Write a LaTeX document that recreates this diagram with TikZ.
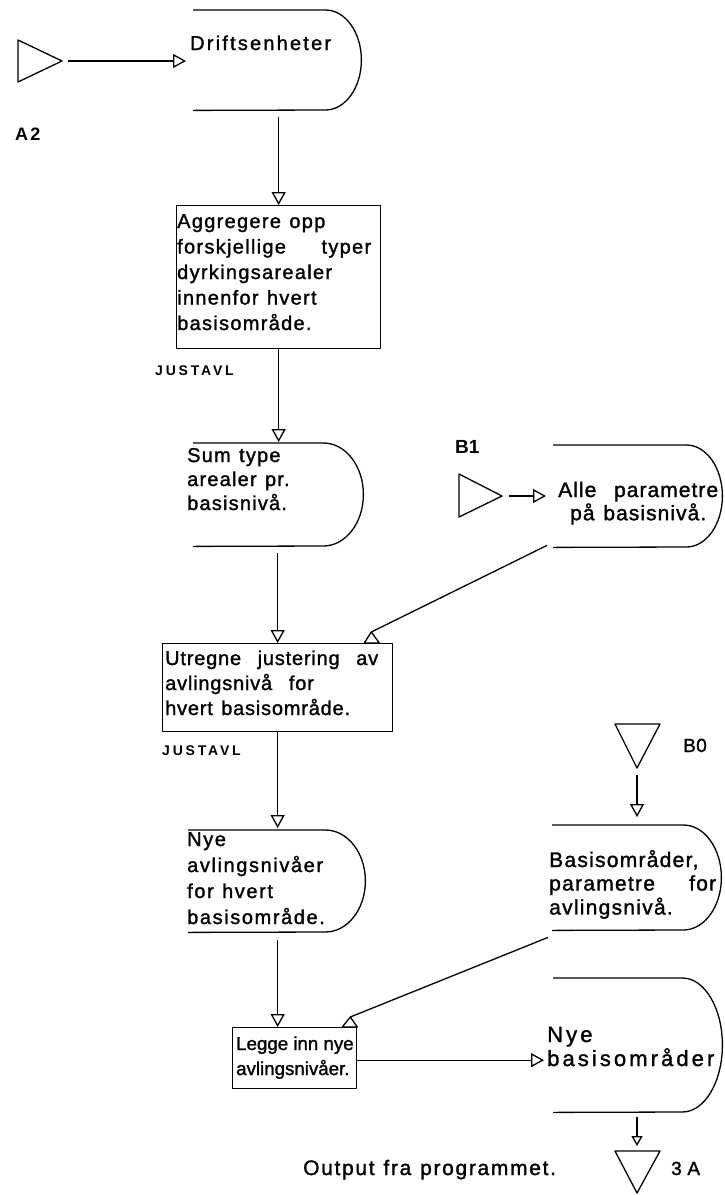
\documentclass[tikz,border=0pt]{standalone}
\usepackage{fontspec}
\setmainfont{Liberation Sans}
\usetikzlibrary{arrows.meta}

% text setting: size, leading, letter spacing
\newcommand\tset[3]{\fontsize{#1}{#2}\selectfont\addfontfeature{LetterSpace=#3,FakeBold=1.4}\spaceskip=0.42em plus 0.1em\relax}
\newcommand\tplain[3]{\fontsize{#1}{#2}\selectfont\addfontfeature{LetterSpace=#3,FakeBold=1.4}\relax}
\newcommand\tbold[3]{\fontsize{#1}{#2}\selectfont\bfseries\addfontfeature{LetterSpace=#3}\relax}
% open-left "delay" outline around a named node: name, bulge, half height
\newcommand\dout[3]{\draw[ln] (#1.north west) -- ([xshift=-#2]#1.north east)
  arc[start angle=90,end angle=-90,x radius=#2,y radius=#3] -- (#1.south west);}

\tikzset{
  ln/.style={line width=1.3pt, line join=round},
  arr/.style={ln, -{Triangle[open,length=13pt,width=14pt]}},
  sarr/.style={ln, -{Triangle[open,length=10pt,width=11pt]}},
  box/.style={ln, draw, rectangle, inner sep=0pt, anchor=north west},
  dnode/.style={rectangle, inner sep=0pt, anchor=north west},
  txt/.style={inner sep=0pt, anchor=base west},
}

\begin{document}
\begin{tikzpicture}[x=1pt, y=-1pt]
\useasboundingbox (0,0) rectangle (724,1195);

% ---- shapes ----
\node[dnode, minimum width=168pt, minimum height=100pt] (drift) at (193,10) {};
\dout{drift}{36pt}{50pt}
\node[box, minimum width=204pt, minimum height=143pt] (aggr) at (176,205) {};
\node[dnode, minimum width=170pt, minimum height=103pt] (sumtype) at (193,443) {};
\dout{sumtype}{40pt}{51.5pt}
\node[dnode, minimum width=169pt, minimum height=102pt] (alle) at (553,445) {};
\dout{alle}{36pt}{51pt}
\node[box, minimum width=230pt, minimum height=88pt] (utregne) at (162,643) {};
\node[dnode, minimum width=177pt, minimum height=102pt] (nyeavl) at (188,830) {};
\dout{nyeavl}{40pt}{51pt}
\node[dnode, minimum width=169pt, minimum height=105pt] (basis) at (552,825) {};
\dout{basis}{38pt}{52.5pt}
\node[box, minimum width=124pt, minimum height=61pt] (legge) at (232,1027) {};
\node[dnode, minimum width=169pt, minimum height=134pt] (nyebas) at (553,978) {};
\dout{nyebas}{40pt}{67pt}

% ---- connector triangles ----
\draw[ln] (18,40) -- (62,61) -- (18,82) -- cycle;
\coordinate (a2) at (62,61);
\draw[ln] (459,474) -- (502,496) -- (459,517) -- cycle;
\coordinate (b1) at (502,496);
\draw[ln] (615,724) -- (660,724) -- (637,768) -- cycle;
\coordinate (b0) at (637,768);
\draw[ln] (615,1151) -- (660,1151) -- (637,1193) -- cycle;
\coordinate (o3a) at (637,1151);

% ---- texts ----
\node[txt] (drifttxt) at (190,50) {\tset{20}{24}{11}Driftsenheter};
\node[txt] (aggrtxt) at (177,228) {\tset{20}{25.5}{6.5}\begin{tabular}[t]{@{}l@{}}
  Aggregere opp\\ \makebox[194pt][s]{forskjellige typer}\\ dyrkingsarealer\\
  innenfor hvert\\ basisområde.\end{tabular}};
\node[txt] (sumtxt) at (187,462) {\tset{20}{24}{6}\begin{tabular}[t]{@{}l@{}}
  Sum type\\ arealer pr.\\ basisnivå.\end{tabular}};
\node[txt] (alletxt) at (558,497) {\tset{21}{21}{5}\begin{tabular}[t]{@{}c@{}}
  \makebox[160pt][s]{Alle parametre}\\ på basisnivå.\end{tabular}};
\node[txt] (utrtxt) at (165,665) {\tset{20}{25}{4}\begin{tabular}[t]{@{}l@{}}
  \makebox[213pt][s]{Utregne justering av}\\ avlingsnivå\ \ for\\ hvert basisområde.\end{tabular}};
\node[txt] (nyeavltxt) at (187,846) {\tset{20}{26}{8}\begin{tabular}[t]{@{}l@{}}
  Nye\\ avlingsnivåer\\ for hvert\\ basisområde.\end{tabular}};
\node[txt] (basistxt) at (549,867) {\tset{21}{23.5}{6}\begin{tabular}[t]{@{}l@{}}
  Basisområder,\\ \makebox[167pt][s]{parametre for}\\ avlingsnivå.\end{tabular}};
\node[txt] (nyebastxt) at (547,1042) {\tset{22}{21}{14}\begin{tabular}[t]{@{}l@{}}
  Nye\\ basisområder\end{tabular}};
\node[txt] (leggetxt) at (236,1050) {\tplain{18.7}{25}{0}\begin{tabular}[t]{@{}l@{}}
  Legge inn nye\\ avlingsnivåer.\end{tabular}};

\node[txt] (a2lbl) at (15,140) {\tbold{18}{20}{12}A2};
\node[txt] (just1) at (155,375) {\tbold{14}{17}{20}JUSTAVL};
\node[txt] (just2) at (162,755) {\tbold{14}{17}{20}JUSTAVL};
\node[txt] (b1lbl) at (455,453) {\tbold{19}{22}{0}B1};
\node[txt] (b0lbl) at (683,752) {\tplain{19}{22}{2}B0};
\node[txt] (outlbl) at (303,1175) {\tset{21}{24}{8}Output fra programmet.};
\node[txt] (lbl3a) at (671,1175) {\tplain{19}{22}{2}3 A};

% ---- connectors ----
\draw[arr] ([xshift=6pt]a2) -- ([xshift=-7pt]drift.west |- a2);
\draw[arr] ([yshift=-7pt]drift.south -| aggr.north) -- (aggr.north);
\draw[arr] (aggr.south) -- ([yshift=1pt]aggr.south |- sumtype.north);
\draw[arr] ([yshift=-7pt]sumtype.south -| utregne.north) -- (utregne.north);
\draw[arr] ([xshift=7pt]b1) -- ([xshift=-7pt]alle.west |- b1);
\draw[ln] ([xshift=-6pt,yshift=2pt]alle.south west) -- ([xshift=-22pt,yshift=11pt]utregne.north east) coordinate (h1);
\draw[ln] (h1) -- ([xshift=-29pt]utregne.north east) -- ([xshift=-14pt]utregne.north east) -- cycle;
\draw[arr] (utregne.south) -- ([yshift=2pt]utregne.south |- nyeavl.north);
\draw[arr] ([yshift=-7pt]b0) -- ([yshift=8pt]b0 |- basis.north);
\draw[arr] ([yshift=-8pt]nyeavl.south -| utregne.south) -- (utregne.south |- legge.north);
\draw[ln] ([xshift=-4pt,yshift=-7pt]basis.south west) -- ([xshift=-7pt,yshift=10pt]legge.north east) coordinate (h2);
\draw[ln] (h2) -- ([xshift=-15pt]legge.north east) -- (legge.north east) -- cycle;
\draw[arr] ([yshift=-2pt]legge.east) -- ([xshift=-9pt,yshift=-2pt]nyebas.west |- legge.east);
\draw[sarr] ([yshift=-5pt]nyebas.south -| o3a) -- ([yshift=5pt]o3a);
\end{tikzpicture}
\end{document}
